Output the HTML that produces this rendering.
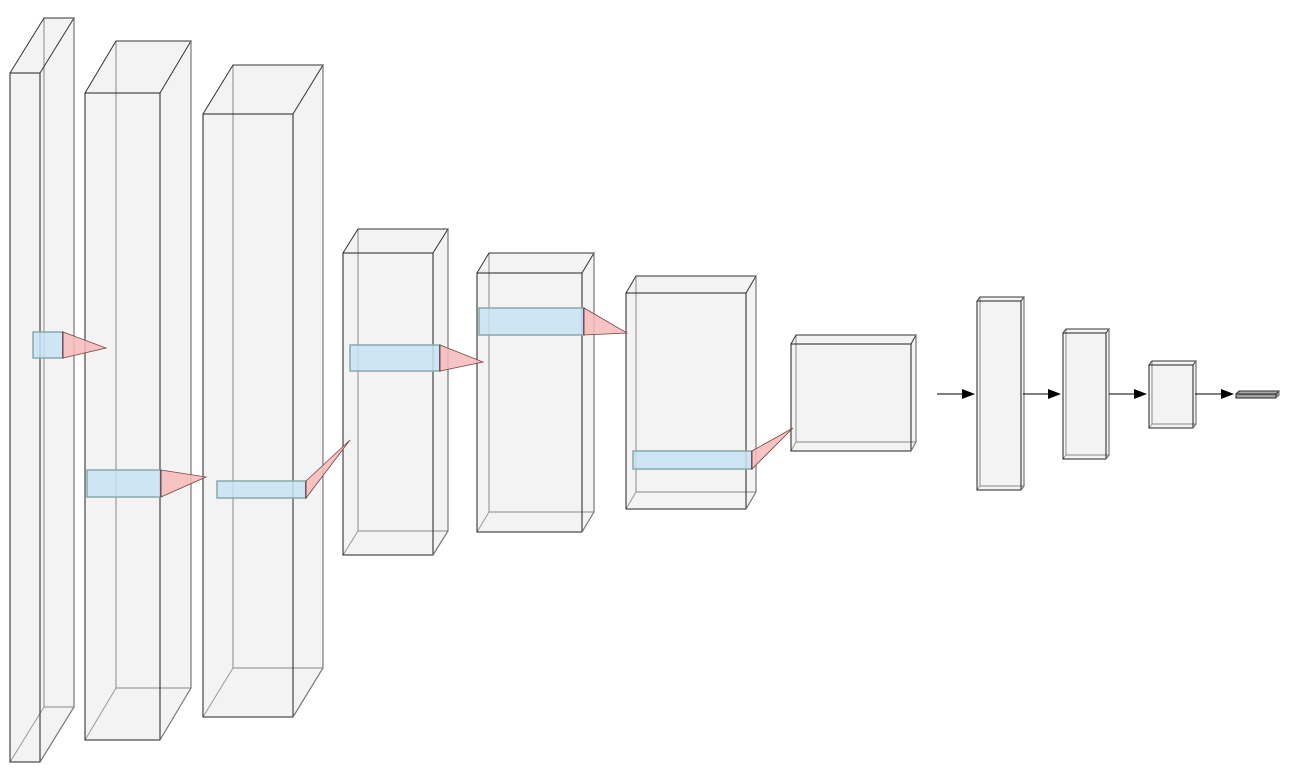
<!DOCTYPE html>
<html><head><meta charset="utf-8">
<style>html,body{margin:0;padding:0;background:#fff;width:1292px;height:780px;overflow:hidden}</style>
</head><body>
<svg id="net" width="1292" height="780" viewBox="0 0 1292 780" xmlns="http://www.w3.org/2000/svg"></svg>
<script>
// layer boxes: front-face x, y, w, h and depth offset dx, dy
const layerX = [10, 85, 203, 343, 477, 626, 791, 977, 1063, 1149, 1236];
const layerY = [73, 93, 114, 253, 273, 293, 344, 301, 333, 365, 394];
const layerW = [30, 75, 90, 90, 105, 120, 120, 44, 43, 44, 40];
const layerH = [689, 647, 603, 302, 259, 216, 107, 189, 126, 63, 4];
const layerDX = [34, 31, 30, 15, 12, 10, 5, 3, 3, 3, 3];
const layerDY = [-55, -52, -49, -24, -20, -17, -9, -4, -4, -4, -3];
// conv kernels: x, y, w, h, and pyramid tip
const kerX = [33, 87, 217, 350, 479, 633];
const kerY = [332, 470, 481, 345, 308, 451];
const kerW = [30, 74, 89, 90, 105, 119];
const kerH = [26, 27, 17, 26, 27, 18];
const tipX = [106, 206, 350, 483, 627, 793];
const tipY = [348, 477, 440, 362, 333, 428];
// arrows between dense layers
const arrX1 = [937, 1023, 1109, 1195];
const arrX2 = [975, 1061, 1147, 1234];
const arrY = 394;

const NS = 'http://www.w3.org/2000/svg';
const svg = document.getElementById('net');
function mk(tag, attrs, parent) {
  const e = document.createElementNS(NS, tag);
  for (const k in attrs) e.setAttribute(k, attrs[k]);
  (parent || svg).appendChild(e);
  return e;
}
for (let i = 0; i < layerX.length; i++) {
  const g = mk('g', {});
  
  
  const x = layerX[i], y = layerY[i], w = layerW[i], h = layerH[i], dx = layerDX[i], dy = layerDY[i];
  const fill = i === 10 ? '#aaa' : '#f3f3f3';
  // back face (fill)
  mk('rect', {x: x + dx, y: y + dy, width: w, height: h, fill: fill, stroke: 'none'}, g);
  mk('polygon', {points: `${x},${y} ${x+dx},${y+dy} ${x+w+dx},${y+dy} ${x+w+dx},${y+h+dy} ${x+w},${y+h} ${x},${y+h}`, fill: fill, stroke: 'none'}, g);
  // hidden edges
  mk('line', {x1: x + dx, y1: y + dy, x2: x + dx, y2: y + h + dy, stroke: '#888', 'stroke-width': 1}, g);
  mk('line', {x1: x + dx, y1: y + h + dy, x2: x + w + dx, y2: y + h + dy, stroke: '#888', 'stroke-width': 1}, g);
  mk('line', {x1: x, y1: y + h, x2: x + dx, y2: y + h + dy, stroke: '#999', 'stroke-width': 1}, g);
  // visible edges
  mk('rect', {x: x, y: y, width: w, height: h, fill: 'none', stroke: '#222', 'stroke-width': 1}, g);
  mk('polyline', {points: `${x},${y} ${x+dx},${y+dy} ${x+w+dx},${y+dy} ${x+w},${y}`, fill: 'none', stroke: '#333', 'stroke-width': 1}, g);
  mk('polyline', {points: `${x+w+dx},${y+dy} ${x+w+dx},${y+h+dy} ${x+w},${y+h}`, fill: 'none', stroke: '#777', 'stroke-width': 1.2}, g);
}
for (let i = 0; i < kerX.length; i++) {
  const g = mk('g', {});
  
  
  const x = kerX[i], y = kerY[i], w = kerW[i], h = kerH[i];
  mk('rect', {x: x, y: y, width: w, height: h, fill: '#c6e2f5', 'fill-opacity': 0.85, stroke: '#8aa', 'stroke-width': 1.5}, g);
  mk('line', {x1: x + w, y1: y, x2: x + w, y2: y + h, stroke: '#223', 'stroke-width': 1.5}, g);
  mk('polygon', {points: `${x+w},${y} ${tipX[i]},${tipY[i]} ${x+w},${y+h}`, fill: '#f7b8b8', 'fill-opacity': 0.85, stroke: '#744', 'stroke-width': 0.8}, g);
}
for (let i = 0; i < arrX1.length; i++) {
  const g = mk('g', {});
  
  
  mk('line', {x1: arrX1[i], y1: arrY, x2: arrX2[i] - 12, y2: arrY, stroke: '#000', 'stroke-width': 1}, g);
  mk('polygon', {points: `${arrX2[i]-13},${arrY-5} ${arrX2[i]},${arrY} ${arrX2[i]-13},${arrY+5}`, fill: '#000'}, g);
}
</script>
</body></html>
